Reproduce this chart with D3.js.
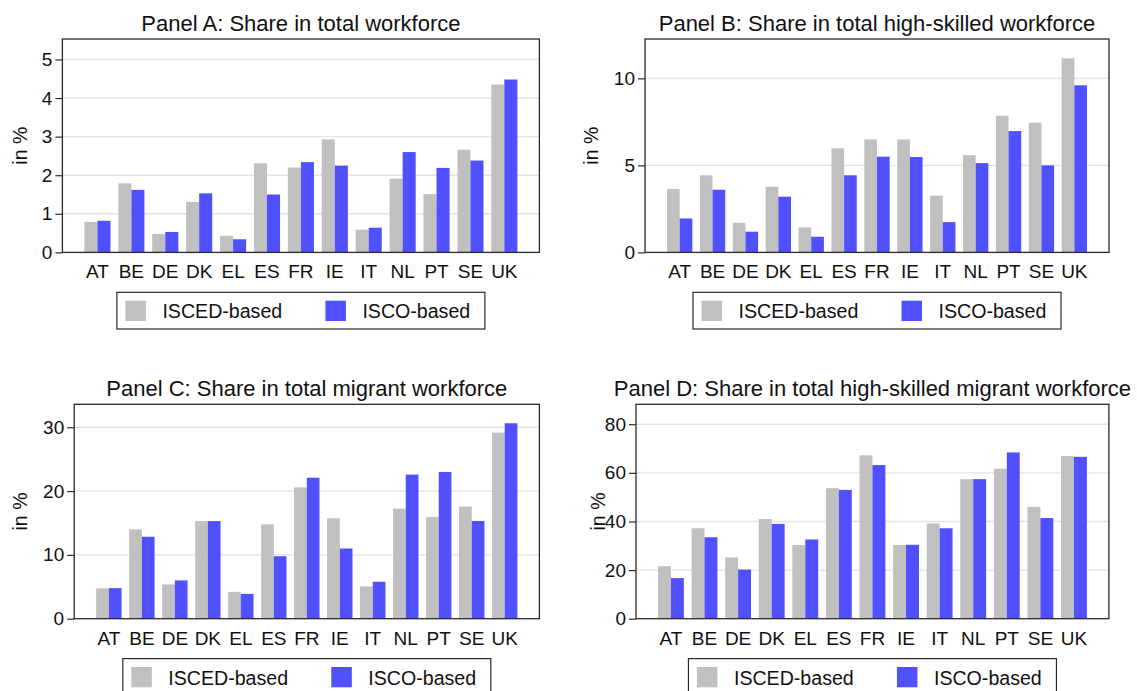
<!DOCTYPE html>
<html>
<head>
<meta charset="utf-8">
<script src="https://cdn.jsdelivr.net/npm/d3@7/dist/d3.min.js"></script>
<style>
  html, body { margin: 0; padding: 0; background: #fff; }
  svg { display: block; font-family: "Liberation Sans", Arial, Helvetica, sans-serif; }
</style>
</head>
<body>
<svg id="chart" width="1137" height="691"></svg>
<script>
// ---------------- data ----------------
const countries = ["AT","BE","DE","DK","EL","ES","FR","IE","IT","NL","PT","SE","UK"];
const seriesNames = ["ISCED-based","ISCO-based"];

const panelTitles = [
  "Panel A: Share in total workforce",
  "Panel B: Share in total high-skilled workforce",
  "Panel C: Share in total migrant workforce",
  "Panel D: Share in total high-skilled migrant workforce"
];

const iscedA = [0.79,1.79,0.48,1.31,0.43,2.31,2.20,2.93,0.59,1.91,1.51,2.66,4.35];
const iscoA  = [0.82,1.62,0.53,1.53,0.34,1.50,2.34,2.25,0.64,2.60,2.19,2.38,4.48];

const iscedB = [3.64,4.43,1.70,3.77,1.44,5.98,6.49,6.49,3.26,5.59,7.85,7.45,11.15];
const iscoB  = [1.95,3.60,1.19,3.20,0.90,4.43,5.50,5.48,1.74,5.13,6.97,5.00,9.60];

const iscedC = [4.74,14.0,5.37,15.3,4.21,14.79,20.58,15.74,5.05,17.26,15.95,17.58,29.16];
const iscoC  = [4.79,12.84,6.0,15.3,3.89,9.79,22.1,11.0,5.79,22.58,23.0,15.32,30.63];

const iscedD = [21.6,37.2,25.2,41.0,30.3,53.7,67.2,30.3,39.2,57.4,61.7,46.0,66.9];
const iscoD  = [16.7,33.5,20.2,39.0,32.6,53.0,63.2,30.4,37.2,57.4,68.4,41.4,66.6];

const ticksA = [0,1,2,3,4,5];
const ticksB = [0,5,10];
const ticksC = [0,10,20,30];
const ticksD = [0,20,40,60,80];

const yMaxA = 5.53, yMaxB = 12.26, yMaxC = 33.6, yMaxD = 88.2;
const yLabel = "in %";

// ---------------- layout ----------------
const colors = ["#c0c0c0", "#5050ff"];
const panels = [
  { title: panelTitles[0], a: iscedA, b: iscoA, ticks: ticksA, ymax: yMaxA,
    left: 62.4, right: 539.4, top: 39, bottom: 252.4, ylabX: 19.5 },
  { title: panelTitles[1], a: iscedB, b: iscoB, ticks: ticksB, ymax: yMaxB,
    left: 645, right: 1109, top: 39, bottom: 252.4, ylabX: 591 },
  { title: panelTitles[2], a: iscedC, b: iscoC, ticks: ticksC, ymax: yMaxC,
    left: 74.2, right: 539.4, top: 404.3, bottom: 618.7, ylabX: 20 },
  { title: panelTitles[3], a: iscedD, b: iscoD, ticks: ticksD, ymax: yMaxD,
    left: 636, right: 1108.9, top: 404.3, bottom: 618.7, ylabX: 598 }
];

const svg = d3.select("#chart");

panels.forEach(p => {
  const g = svg.append("g");
  const x = d3.scaleBand().domain(countries)
    .range([p.left + 22, p.right - 22]).paddingInner(0.23).paddingOuter(0);
  const xs = d3.scaleBand().domain(seriesNames).range([0, x.bandwidth()]);
  const y = d3.scaleLinear().domain([0, p.ymax]).range([p.bottom, p.top]);

  // gridlines
  g.append("g").selectAll("line").data(p.ticks.filter(t => t > 0)).join("line")
    .attr("x1", p.left).attr("x2", p.right)
    .attr("y1", d => y(d)).attr("y2", d => y(d))
    .attr("stroke", "#e3e3e3").attr("stroke-width", 1.4);

  // bars
  const rows = countries.map((c, i) => ({ c, vals: [p.a[i], p.b[i]] }));
  const grp = g.append("g").selectAll("g").data(rows).join("g")
    .attr("transform", d => `translate(${x(d.c)},0)`);
  grp.selectAll("rect").data(d => d.vals.map((v, k) => ({ v, k }))).join("rect")
    .attr("x", d => xs(seriesNames[d.k]))
    .attr("width", xs.bandwidth())
    .attr("y", d => y(d.v))
    .attr("height", d => y(0) - y(d.v))
    .attr("fill", d => colors[d.k]);

  // frame
  g.append("rect")
    .attr("x", p.left).attr("y", p.top)
    .attr("width", p.right - p.left).attr("height", p.bottom - p.top)
    .attr("fill", "none").attr("stroke", "#2a2a2a").attr("stroke-width", 1.3);

  // y axis
  const ya = g.append("g").attr("transform", `translate(${p.left},0)`)
    .call(d3.axisLeft(y).tickValues(p.ticks).tickSize(7).tickPadding(3).tickFormat(d3.format("d")));
  ya.select(".domain").remove();
  ya.selectAll(".tick line").attr("stroke", "#2a2a2a").attr("stroke-width", 1.2);
  ya.selectAll(".tick text").attr("font-size", 19).attr("fill", "#111")
    .attr("font-family", "Liberation Sans, Arial, sans-serif");

  // x axis
  const xa = g.append("g").attr("transform", `translate(0,${p.bottom})`)
    .call(d3.axisBottom(x).tickSize(0).tickPadding(12.5));
  xa.select(".domain").remove();
  xa.selectAll(".tick text").attr("font-size", 19).attr("fill", "#111")
    .attr("font-family", "Liberation Sans, Arial, sans-serif");

  // y label
  g.append("text")
    .attr("transform", `translate(${p.ylabX + 7},${(p.top + p.bottom) / 2}) rotate(-90)`)
    .attr("text-anchor", "middle").attr("font-size", 19.5).attr("fill", "#111")
    .text(yLabel);

  // title
  g.append("text")
    .attr("x", (p.left + p.right) / 2).attr("y", p.top - 8.3)
    .attr("text-anchor", "middle").attr("font-size", 22).attr("fill", "#111")
    .text(p.title);

  // legend
  const cx = (p.left + p.right) / 2;
  const lw = 368, lh = 36.7;
  const lx = cx - lw / 2, ly = p.bottom + 39.9;
  const lg = g.append("g").attr("transform", `translate(${lx},${ly})`);
  lg.append("rect").attr("width", lw).attr("height", lh)
    .attr("fill", "#fff").attr("stroke", "#2a2a2a").attr("stroke-width", 1.2);
  const items = lg.selectAll("g").data(seriesNames).join("g")
    .attr("transform", (d, i) => `translate(${8.5 + i * 200},0)`);
  items.append("rect").attr("y", 8.4).attr("width", 20.5).attr("height", 20.3)
    .attr("fill", (d, i) => colors[i]);
  items.append("text").attr("x", 37).attr("y", 26)
    .attr("font-size", 19.6).attr("fill", "#111").text(d => d);
});
</script>
</body>
</html>
